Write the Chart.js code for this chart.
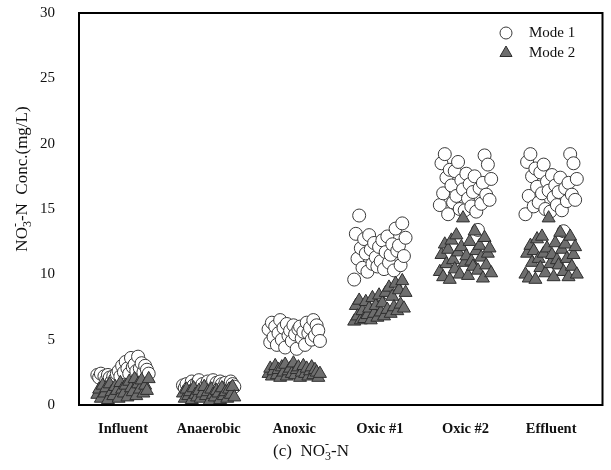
<!DOCTYPE html>
<html>
<head>
<meta charset="utf-8">
<script src="https://cdn.jsdelivr.net/npm/chart.js@4.4.1/dist/chart.umd.min.js"></script>
<style>
  html, body { margin: 0; padding: 0; background: #fff; }
  #wrap { width: 611px; height: 470px; }
</style>
</head>
<body>
<div id="wrap"><canvas id="myChart" width="611" height="470"></canvas></div>
<script>
// categories along the x axis
var categories = ["Influent", "Anaerobic", "Anoxic", "Oxic #1", "Oxic #2", "Effluent"];
var yTicks = [0, 5, 10, 15, 20, 25, 30];

// Mode 1 (circles), in sampling order
var m1Influent  = [2.3, 2.1, 2.4, 0.8, 2.2, 1.9, 2.3, 2.1, 1.8, 2.2, 2.0, 2.4, 2.6, 2.2, 3.0, 2.5, 3.3, 2.8, 2.4, 3.6, 2.9, 3.1, 2.6, 3.7, 2.8, 3.2, 2.5, 3.0, 2.7, 2.4];
var m1Anaerobic = [1.5, 1.3, 1.6, 1.2, 1.4, 1.8, 1.5, 1.3, 1.7, 1.9, 1.4, 1.6, 1.2, 1.5, 1.8, 1.3, 1.6, 1.9, 1.4, 1.7, 1.5, 1.8, 1.6, 1.4, 1.7, 1.3, 1.5, 1.8, 1.6, 1.4];
var m1Anoxic    = [5.8, 4.8, 6.3, 5.2, 6.0, 4.6, 5.5, 6.5, 5.0, 5.9, 4.4, 6.2, 5.3, 5.7, 4.9, 6.1, 5.4, 4.3, 5.8, 6.0, 5.1, 5.6, 4.6, 6.3, 5.5, 5.9, 5.0, 6.5, 5.3, 6.1, 5.7, 4.9];
var m1Oxic1     = [9.6, 13.1, 11.2, 14.5, 12.0, 10.5, 12.7, 11.6, 10.2, 13.0, 11.9, 10.8, 12.4, 11.3, 10.6, 12.1, 11.0, 12.6, 10.4, 11.7, 12.9, 10.9, 11.5, 12.3, 10.3, 13.5, 11.8, 12.2, 10.7, 13.9, 11.4, 12.8];
var m1Oxic2     = [15.3, 18.5, 16.2, 19.2, 17.4, 14.6, 18.0, 16.8, 15.5, 17.9, 16.0, 18.6, 15.0, 17.2, 16.5, 14.9, 17.7, 15.8, 16.9, 15.2, 16.3, 17.5, 14.8, 13.4, 16.6, 15.4, 17.0, 19.1, 16.1, 18.4, 15.7, 17.3];
var m1Effluent  = [14.6, 18.6, 16.0, 19.2, 17.5, 15.2, 18.1, 16.7, 15.5, 17.8, 16.2, 18.4, 15.0, 17.1, 16.4, 14.8, 17.6, 15.9, 16.8, 15.3, 16.3, 17.4, 14.9, 13.3, 16.6, 15.6, 17.0, 19.2, 16.1, 18.5, 15.7, 17.3];

// Mode 2 (triangles)
var m2Influent  = [0.8, 1.2, 0.5, 1.5, 0.9, 1.3, 0.4, 1.6, 1.0, 0.7, 1.4, 1.1, 0.5, 1.7, 1.2, 0.9, 1.5, 0.6, 1.8, 1.3, 1.0, 2.0, 0.7, 1.6, 1.2, 1.9, 0.9, 1.5, 1.1, 2.0];
var m2Anaerobic = [0.9, 0.5, 1.2, 0.7, 1.0, 0.4, 1.3, 0.8, 0.6, 1.1, 0.5, 0.9, 1.4, 0.7, 1.0, 0.3, 1.2, 0.8, 0.6, 1.1, 0.9, 0.4, 1.3, 0.7, 1.0, 0.5, 1.2, 0.8, 1.4, 0.6];
var m2Anoxic    = [2.4, 2.8, 2.2, 2.6, 3.0, 2.3, 2.7, 2.1, 2.9, 2.5, 3.1, 2.2, 2.6, 2.8, 2.4, 3.2, 2.3, 2.7, 2.9, 2.1, 2.5, 3.0, 2.4, 2.8, 2.2, 2.6, 2.9, 2.3, 2.7, 2.5, 2.1, 2.4];
var m2Oxic1     = [6.4, 7.6, 6.8, 8.0, 6.5, 7.2, 6.6, 7.9, 6.9, 7.4, 6.5, 8.2, 7.0, 7.6, 6.7, 8.4, 7.1, 7.8, 6.8, 8.6, 7.3, 9.0, 7.0, 8.3, 7.5, 9.3, 7.2, 8.8, 7.7, 9.5, 7.4, 8.6];
var m2Oxic2     = [10.2, 11.5, 9.8, 12.3, 10.8, 11.9, 9.6, 12.6, 11.1, 10.4, 13.0, 11.7, 10.0, 12.1, 14.3, 10.9, 11.4, 9.9, 12.5, 11.0, 10.6, 13.3, 11.8, 10.3, 12.2, 11.3, 9.7, 12.8, 10.7, 11.6, 12.0, 10.1];
var m2Effluent  = [10.0, 11.6, 9.7, 12.2, 10.9, 11.8, 9.6, 12.7, 11.2, 10.5, 12.9, 11.6, 10.1, 12.0, 14.3, 10.8, 11.5, 9.8, 12.4, 11.1, 10.7, 13.2, 11.9, 10.2, 12.3, 11.2, 9.8, 12.9, 10.6, 11.5, 12.1, 10.0];

var mode1 = [m1Influent, m1Anaerobic, m1Anoxic, m1Oxic1, m1Oxic2, m1Effluent];
var mode2 = [m2Influent, m2Anaerobic, m2Anoxic, m2Oxic1, m2Oxic2, m2Effluent];

// spread each group's samples across its category slot, in order
function toPoints(groups) {
  var pts = [];
  groups.forEach(function (vals, c) {
    var n = vals.length;
    vals.forEach(function (v, i) {
      pts.push({ x: c + 1 + (i / (n - 1) - 0.5) * 0.6, y: v });
    });
  });
  return pts;
}

var serif = "'Liberation Serif', 'Times New Roman', serif";

// draws text pieces with sub/superscripts, returns width
function richText(ctx, parts, x, y, size, measureOnly) {
  var cx = x;
  var i = 0;
  while (i < parts.length) {
    var p = parts[i];
    if (p.sub && parts[i + 1] && parts[i + 1].sup) {
      // stacked sub + sup
      ctx.font = Math.round(size * 0.7) + "px " + serif;
      var w1 = ctx.measureText(p.t).width, w2 = ctx.measureText(parts[i + 1].t).width;
      if (!measureOnly) {
        ctx.fillText(p.t, cx, y + size * 0.28);
        ctx.fillText(parts[i + 1].t, cx, y - size * 0.42);
      }
      cx += Math.max(w1, w2);
      i += 2;
      continue;
    }
    ctx.font = size + "px " + serif;
    if (!measureOnly) ctx.fillText(p.t, cx, y);
    cx += ctx.measureText(p.t).width;
    i++;
  }
  return cx - x;
}

var decor = {
  id: 'decor',
  afterDraw: function (chart) {
    var ctx = chart.ctx, a = chart.chartArea;
    ctx.save();
    // frame
    ctx.strokeStyle = '#000';
    ctx.lineWidth = 2;
    ctx.strokeRect(a.left, a.top, a.right - a.left, a.bottom - a.top);

    ctx.fillStyle = '#111';
    ctx.textBaseline = 'middle';
    ctx.textAlign = 'left';

    // y axis title
    var title = [{ t: 'NO' }, { t: '3', sub: true }, { t: '-', sup: true }, { t: '-N  Conc.(mg/L)' }];
    var tw = richText(ctx, title, 0, 0, 17, true);
    ctx.save();
    ctx.translate(23, 179);
    ctx.rotate(-Math.PI / 2);
    richText(ctx, title, -tw / 2, 0, 17, false);
    ctx.restore();

    // caption
    var cap = [{ t: '(c)  NO' }, { t: '3', sub: true }, { t: '-', sup: true }, { t: '-N' }];
    var cw = richText(ctx, cap, 0, 0, 17, true);
    richText(ctx, cap, 311 - cw / 2, 452, 17, false);

    // legend
    var ds = chart.data.datasets;
    var rows = [{ d: ds[0], y: 33 }, { d: ds[1], y: 53 }];
    rows.forEach(function (r) {
      ctx.fillStyle = r.d.backgroundColor;
      ctx.strokeStyle = r.d.borderColor;
      ctx.lineWidth = 1;
      ctx.beginPath();
      if (r.d.pointStyle === 'triangle') {
        ctx.moveTo(506, r.y - 7);
        ctx.lineTo(506 + 6.06, r.y + 3.5);
        ctx.lineTo(506 - 6.06, r.y + 3.5);
        ctx.closePath();
      } else {
        ctx.arc(506, r.y, 6, 0, Math.PI * 2);
      }
      ctx.fill();
      ctx.stroke();
      ctx.fillStyle = '#111';
      ctx.font = '15px ' + serif;
      ctx.fillText(r.d.label, 529, r.y);
    });
    ctx.restore();
  }
};

new Chart("myChart", {
  type: "scatter",
  data: {
    datasets: [{
      label: "Mode 1",
      data: toPoints(mode1),
      pointStyle: "circle",
      pointRadius: 6.5,
      backgroundColor: "#ffffff",
      borderColor: "#3a3a3a",
      borderWidth: 1,
      order: 1
    }, {
      label: "Mode 2",
      data: toPoints(mode2),
      pointStyle: "triangle",
      pointRadius: 7.5,
      backgroundColor: "#6e6e6e",
      borderColor: "#2e2e2e",
      borderWidth: 1,
      order: 0
    }]
  },
  options: {
    responsive: false,
    animation: false,
    layout: { padding: { left: 0, right: 7, top: 13, bottom: 0 } },
    plugins: {
      legend: { display: false },
      title: { display: false },
      tooltip: { enabled: false }
    },
    scales: {
      x: {
        type: "linear",
        min: 0.486,
        max: 6.6,
        grid: { display: false },
        border: { display: true, color: "#000", width: 2 },
        afterBuildTicks: function (scale) {
          scale.ticks = categories.map(function (c, i) { return { value: i + 1 }; });
        },
        afterFit: function (scale) {
          scale.height = 65;
          scale.paddingLeft = 0;
          scale.paddingRight = 0;
        },
        ticks: {
          padding: 8,
          maxRotation: 0,
          autoSkip: false,
          color: "#111",
          font: { family: serif, size: 14.5, weight: "bold" },
          callback: function (v) { return categories[Math.round(v) - 1]; }
        }
      },
      y: {
        min: 0,
        max: 30,
        grid: { display: false },
        border: { display: true, color: "#000", width: 2 },
        afterBuildTicks: function (scale) {
          scale.ticks = yTicks.map(function (v) { return { value: v }; });
        },
        afterFit: function (scale) {
          scale.width = 79;
          scale.paddingTop = 0;
          scale.paddingBottom = 0;
        },
        ticks: {
          padding: 16,
          color: "#111",
          font: { family: serif, size: 15 }
        }
      }
    }
  },
  plugins: [decor]
});
</script>
</body>
</html>
